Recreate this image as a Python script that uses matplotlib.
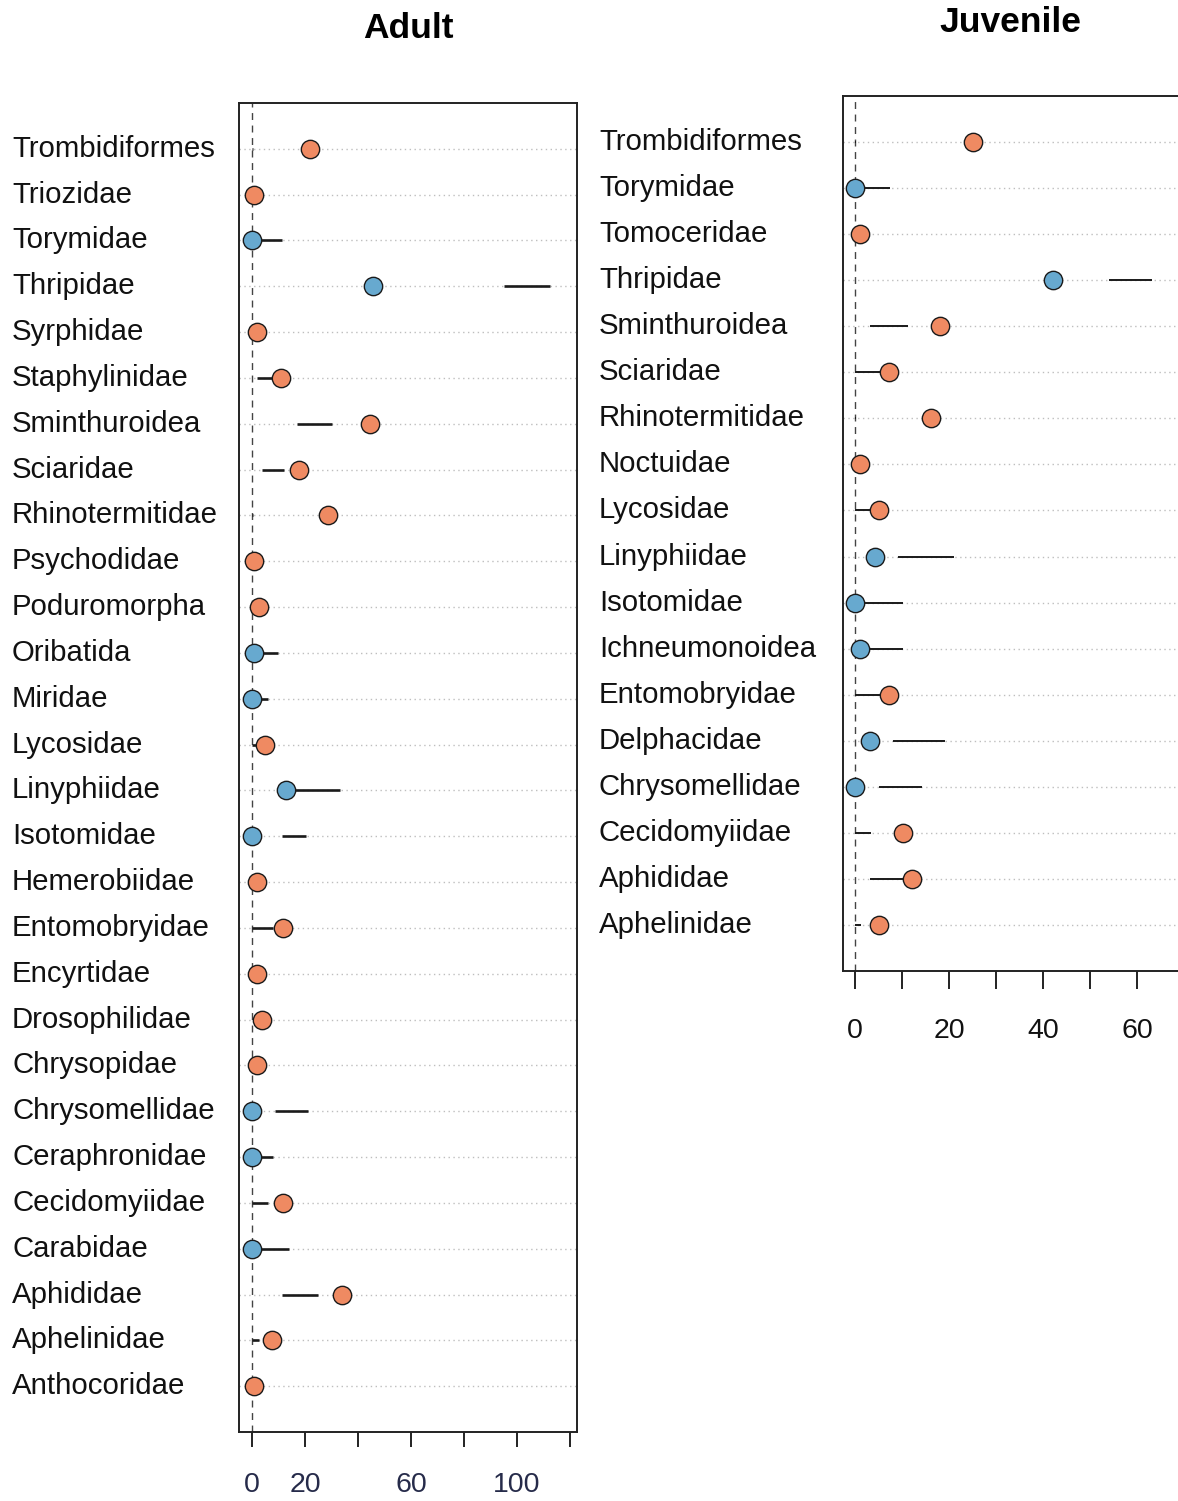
import numpy as np
import matplotlib
matplotlib.use("Agg")
import matplotlib.pyplot as plt
from matplotlib.transforms import blended_transform_factory

plt.rcParams['font.family'] = ['Liberation Sans', 'DejaVu Sans']

# ---------------- data ----------------
adult_taxa = ["Trombidiformes", "Triozidae", "Torymidae", "Thripidae", "Syrphidae",
              "Staphylinidae", "Sminthuroidea", "Sciaridae", "Rhinotermitidae",
              "Psychodidae", "Poduromorpha", "Oribatida", "Miridae", "Lycosidae",
              "Linyphiidae", "Isotomidae", "Hemerobiidae", "Entomobryidae",
              "Encyrtidae", "Drosophilidae", "Chrysopidae", "Chrysomellidae",
              "Ceraphronidae", "Cecidomyiidae", "Carabidae", "Aphididae",
              "Aphelinidae", "Anthocoridae"]
adult_value = [21.8, 0.8, 0.0, 45.5, 1.9, 10.9, 44.7, 17.7, 28.6, 0.8, 2.6, 0.8, 0.0,
               4.9, 12.8, 0.0, 1.9, 11.7, 1.9, 3.8, 1.9, 0.0, 0.0, 11.7, 0.0, 33.8,
               7.5, 0.8]
adult_group = ["pos", "pos", "neg", "neg", "pos", "pos", "pos", "pos", "pos", "pos",
               "pos", "neg", "neg", "pos", "neg", "neg", "pos", "pos", "pos", "pos",
               "pos", "neg", "neg", "pos", "neg", "pos", "pos", "pos"]
adult_lo = [0.0, np.nan, 0.0, 95.2, np.nan, 1.8, 16.9, 3.9, 0.0, np.nan, np.nan, 0.0,
            0.0, 0.0, 12.8, 11.4, np.nan, 0.0, np.nan, np.nan, np.nan, 8.6, 0.0, 0.0,
            0.0, 11.5, 0.0, np.nan]
adult_hi = [0.4, np.nan, 11.5, 112.3, np.nan, 9.0, 30.3, 12.0, 0.3, np.nan, np.nan, 9.9,
            5.9, 2.0, 33.1, 20.2, np.nan, 8.0, np.nan, np.nan, np.nan, 21.1, 8.0, 5.9,
            14.0, 24.9, 2.6, np.nan]

juv_taxa = ["Trombidiformes", "Torymidae", "Tomoceridae", "Thripidae", "Sminthuroidea",
            "Sciaridae", "Rhinotermitidae", "Noctuidae", "Lycosidae", "Linyphiidae",
            "Isotomidae", "Ichneumonoidea", "Entomobryidae", "Delphacidae",
            "Chrysomellidae", "Cecidomyiidae", "Aphididae", "Aphelinidae"]
juv_value = [25.0, 0.0, 1.0, 42.1, 18.1, 7.1, 16.1, 1.0, 5.1, 4.1, 0.0, 1.0, 7.1, 3.1,
             0.0, 10.1, 12.1, 5.1]
juv_group = ["pos", "neg", "pos", "neg", "pos", "pos", "pos", "pos", "pos", "neg",
             "neg", "neg", "pos", "neg", "neg", "pos", "pos", "pos"]
juv_lo = [0.0, 0.0, np.nan, 54.1, 3.1, 0.0, 0.0, np.nan, 0.0, 9.1, 0.0, 1.0, 0.0, 8.0,
          5.1, 0.0, 3.1, 0.0]
juv_hi = [0.2, 7.3, np.nan, 63.2, 11.2, 6.0, 0.2, np.nan, 4.0, 21.1, 10.1, 10.1, 6.0,
          19.2, 14.3, 3.3, 11.0, 1.3]

adult_ticks = [0, 20, 40, 60, 80, 100, 120]
adult_ticklabels = ["0", "20", "", "60", "", "100", ""]
juv_ticks = [0, 10, 20, 30, 40, 50, 60]
juv_ticklabels = ["0", "", "20", "", "40", "", "60"]

colors = {"pos": "#EF8A62", "neg": "#67A9CF"}

W, H = 1178, 1501
fig = plt.figure(figsize=(W / 100, H / 100), dpi=100)


def panel(rect, taxa, vals, groups, lo, hi, xlim, ticks, ticklabels, title, title_xy,
          label_x, seg_lw, tick_color, tick_len, tick_pad):
    ax = fig.add_axes(rect)
    n = len(taxa)
    ys = np.arange(n, 0, -1)
    ax.set_xlim(*xlim)
    ax.set_ylim(0, n + 1)
    for y in ys:
        ax.axhline(y, color="#BEBEBE", lw=1.0, ls=(0, (1, 2.5)), zorder=1)
    ax.axvline(0, color="#444444", lw=1.0, ls=(0, (5, 4)), zorder=2)
    for y, l, h in zip(ys, lo, hi):
        if not (np.isnan(l) or np.isnan(h)):
            ax.plot([l, h], [y, y], color="#1a1a1a", lw=seg_lw, solid_capstyle="butt",
                    zorder=3)
    for y, v, g in zip(ys, vals, groups):
        ax.plot([v], [y], "o", ms=13.2, mfc=colors[g], mec="#1a1a1a", mew=1.0, zorder=4)
    ax.set_yticks([])
    ax.set_xticks(ticks)
    ax.set_xticklabels(ticklabels, fontsize=20.5, color=tick_color)
    ax.tick_params(axis="x", length=tick_len, width=1.4, pad=tick_pad, color="#222222")
    for s in ax.spines.values():
        s.set_linewidth(1.4)
        s.set_color("#222222")
    tr = blended_transform_factory(fig.transFigure, ax.transData)
    for y, t in zip(ys, taxa):
        ax.text(label_x / W, y, t, transform=tr, ha="left", va="center",
                fontsize=21.2, color="#111111", clip_on=False)
    fig.text(title_xy[0] / W, 1 - title_xy[1] / H, title, ha="center", va="center",
             fontsize=25.5, fontweight="bold", color="#000000")
    return ax


panel([239 / W, 1 - 1432 / H, 338 / W, (1432 - 103) / H], adult_taxa, adult_value,
      adult_group, adult_lo, adult_hi, (-4.9, 122.6), adult_ticks, adult_ticklabels,
      "Adult", (408, 29), 12, 1.9, "#262b4a", 11, 18)
panel([843 / W, 1 - 971 / H, 340 / W, (971 - 96) / H], juv_taxa, juv_value,
      juv_group, juv_lo, juv_hi, (-2.62, 69.8), juv_ticks, juv_ticklabels,
      "Juvenile", (1010, 22), 599, 1.4, "#111111", 13, 21)

fig.savefig("out.png", dpi=100)
